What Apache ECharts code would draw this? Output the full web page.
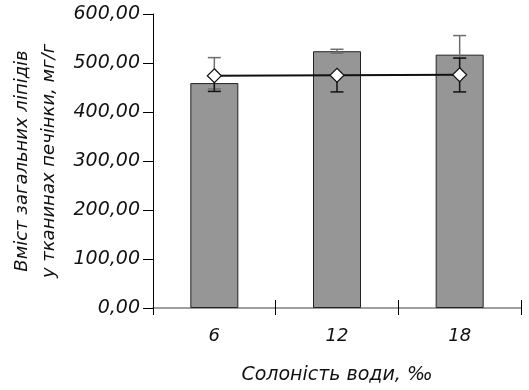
<!DOCTYPE html>
<html><head><meta charset="utf-8">
<script src="https://cdn.jsdelivr.net/npm/echarts@6/dist/echarts.min.js"></script>
<style>html,body{margin:0;padding:0;background:#fff}#c{width:529px;height:390px}</style>
</head><body><div id="c"></div>
<script>
const categories = ['6', '12', '18'];
const barValues = [459, 524, 517];
const lineValues = [474, 475, 476];
const barErrLow = [447, 520, 510];
const barErrHigh = [511, 528, 556];
const lineErrLow = [442, 441, 441];
const lineErrHigh = [474, 475, 510];
const yTicks = [0, 100, 200, 300, 400, 500, 600];

const FONT = 'DejaVu Sans';
const chart = echarts.init(document.getElementById('c'), null, {renderer: 'canvas'});

function errData(lo, hi) { return categories.map((c, i) => [i, lo[i], hi[i]]); }
function errRender(color, width) {
  return function (params, api) {
    const x = api.value(0), lo = api.value(1), hi = api.value(2);
    const pLo = api.coord([x, lo]), pHi = api.coord([x, hi]);
    const half = 6.5;
    const st = {stroke: color, lineWidth: width};
    return {type: 'group', children: [
      {type: 'line', shape: {x1: pLo[0], y1: pLo[1], x2: pHi[0], y2: pHi[1]}, style: st},
      {type: 'line', shape: {x1: pLo[0] - half, y1: pLo[1], x2: pLo[0] + half, y2: pLo[1]}, style: st},
      {type: 'line', shape: {x1: pHi[0] - half, y1: pHi[1], x2: pHi[0] + half, y2: pHi[1]}, style: st}
    ]};
  };
}

chart.setOption({
  animation: false,
  backgroundColor: '#fff',
  grid: {left: 153, right: 8, top: 14, bottom: 80},
  xAxis: [{
    type: 'category', data: categories, position: 'bottom',
    axisLine: {lineStyle: {color: '#808080', width: 1.5}},
    axisTick: {show: true, alignWithLabel: false, length: 7, lineStyle: {color: '#000'}},
    axisLabel: {fontFamily: FONT, fontStyle: 'italic', fontSize: 18, color: '#111', margin: 19},
    name: 'Солоність води, ‰', nameLocation: 'middle', nameGap: 58,
    nameTextStyle: {fontFamily: FONT, fontStyle: 'italic', fontSize: 19, color: '#111'}
  }, {
    type: 'category', data: categories, position: 'bottom',
    axisLine: {show: false},
    axisTick: {show: true, inside: true, length: 8, lineStyle: {color: '#000'}},
    axisLabel: {show: false}
  }],
  yAxis: {
    type: 'value', min: 0, max: 600, interval: 100,
    axisLine: {show: true, lineStyle: {color: '#000', width: 1}},
    axisTick: {show: true, length: 10, lineStyle: {color: '#000'}},
    splitLine: {show: false},
    axisLabel: {fontFamily: FONT, fontStyle: 'italic', fontSize: 19, color: '#111', margin: 13,
      formatter: v => v.toFixed(2).replace('.', ',')},
    name: 'Вміст загальних ліпідів\nу тканинах печінки, мг/г', nameLocation: 'middle', nameRotate: 90, nameGap: 80,
    nameTextStyle: {fontFamily: FONT, fontStyle: 'italic', fontSize: 18, color: '#111', lineHeight: 27}
  },
  series: [{
    type: 'bar', data: barValues, barWidth: 48, z: 2,
    itemStyle: {color: '#969696', borderColor: '#222', borderWidth: 1}
  }, {
    type: 'custom', data: errData(barErrLow, barErrHigh), renderItem: errRender('#6e6e6e', 1.5), z: 3
  }, {
    type: 'custom', data: errData(lineErrLow, lineErrHigh), renderItem: errRender('#111', 1.5), z: 4
  }, {
    type: 'line', data: lineValues, z: 5,
    lineStyle: {color: '#111', width: 2},
    symbol: 'diamond', symbolSize: 14, showSymbol: true,
    itemStyle: {color: '#fff', borderColor: '#111', borderWidth: 1.2}
  }]
});
</script></body></html>
